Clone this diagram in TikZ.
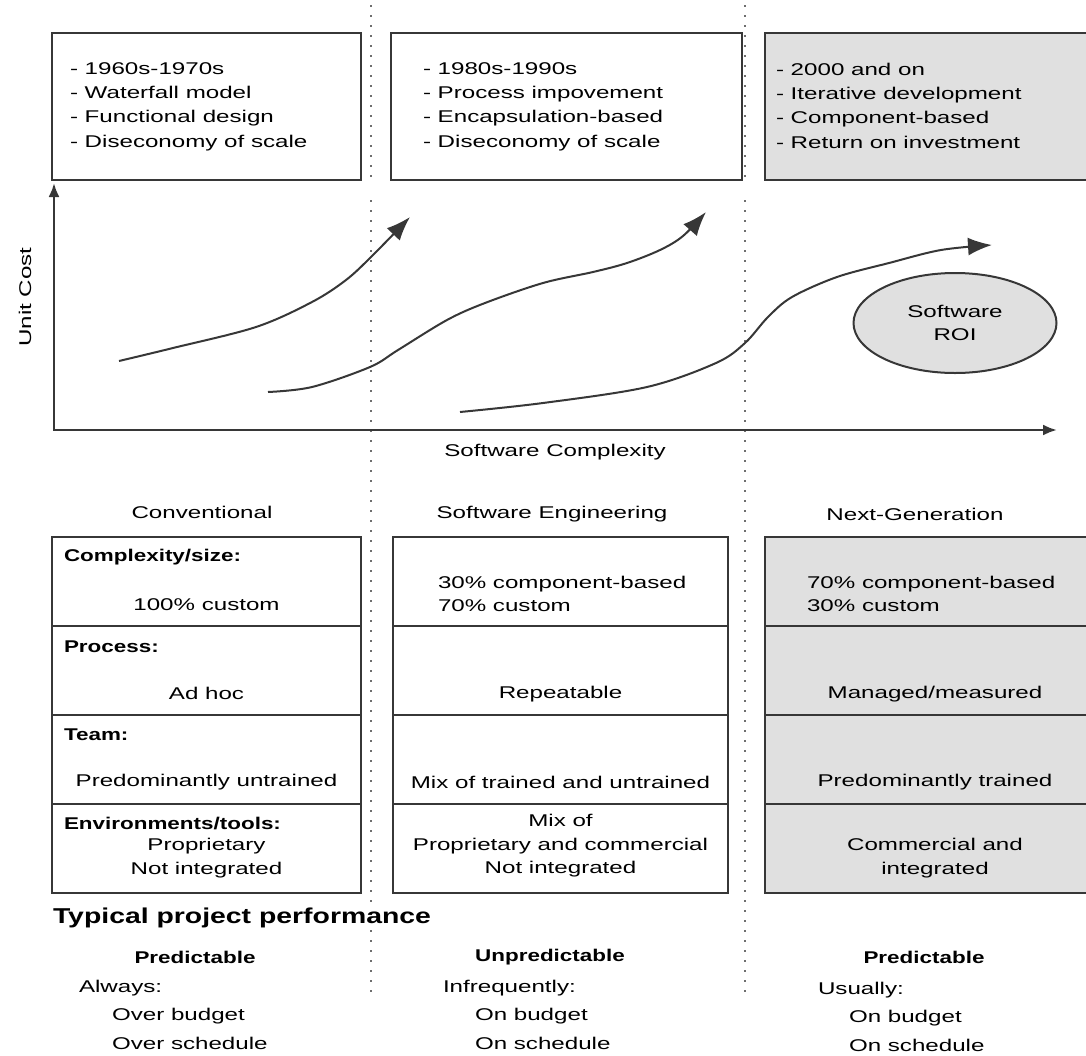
\documentclass[tikz,border=0pt]{standalone}
\usepackage{fontspec}
\usepackage{tikz}
\usetikzlibrary{arrows.meta, positioning, shapes.geometric}
\newfontfamily\txtfont{Liberation Sans}[FakeStretch=1.42]
\newfontfamily\hdfont{Liberation Sans}[FakeStretch=1.32]
\definecolor{boxgray}{RGB}{224, 224, 224}
\definecolor{linegray}{RGB}{55, 55, 55}
\definecolor{dotgray}{RGB}{110, 110, 110}
\newcommand{\txt}{\txtfont\fontsize{17}{23.5}\selectfont}
\newcommand{\hd}{\hdfont\bfseries\fontsize{17}{23.5}\selectfont}

\begin{document}
\begin{tikzpicture}[
        x = 1pt, y = -1pt, % one unit per pixel
        > = {Latex[length=14pt, width=11pt]}, % axis arrow head
        line width = 2pt, % line style
        font = \txt
    ]
        \tikzstyle{era}=[
            draw = linegray,
            anchor = north west,
            minimum height = 147pt,
            inner sep = 0pt,
            outer sep = 0pt,
        ]
        \tikzstyle{cell}=[draw=linegray, anchor=north west, minimum height=89pt, inner sep=0pt, outer sep=0pt]
        \tikzstyle{lbl}=[font=\hd, anchor=west, inner sep=0pt]
        \tikzstyle{lst}=[align=left, anchor=west, inner sep=0pt]
        \tikzstyle{perf}=[anchor=west, inner sep=0pt]
        \tikzstyle{divider}=[dotgray, line width=2pt, dash pattern=on 2pt off 8pt]
        \tikzstyle{trend}=[draw=linegray, -{Latex[length=24pt, width=18pt]}]

        \useasboundingbox (0,0) rectangle (1086,1055);

        % dotted separators
        \draw[divider] (371,5) -- (371,180);
        \draw[divider] (371,200) -- (371,995);
        \draw[divider] (745,5) -- (745,180);
        \draw[divider] (745,200) -- (745,995);

        % eras
        \node[era, minimum width=309pt] (e1) at (52,33) {};
        \node[era, minimum width=351pt] (e2) at (391,33) {};
        \node[era, minimum width=340pt, fill=boxgray] (e3) at (765,33) {};
        \node[lst, font=\txtfont\fontsize{17}{24.3}\selectfont] (t1) at ([xshift=17pt]e1.west) {
        - 1960s-1970s\\
        - Waterfall model\\
        - Functional design\\
        - Diseconomy of scale};
        \node[lst, font=\txtfont\fontsize{17}{24.3}\selectfont] (t2) at ([xshift=31pt]e2.west) {
        - 1980s-1990s\\
        - Process impovement\\
        - Encapsulation-based\\
        - Diseconomy of scale};
        \node[lst, font=\txtfont\fontsize{17}{24.3}\selectfont] (t3) at ([xshift=10pt, yshift=1pt]e3.west) {
        - 2000 and on\\
        - Iterative development\\
        - Component-based\\
        - Return on investment};

        % axes
        \coordinate (ytip) at (54,183);
        \coordinate (xtip) at (1057,430);
        \draw[<->, draw=linegray, line width=2.5pt] (ytip) |- (xtip);
        \node[rotate=90] (uc) at (25,297) {Unit Cost};
        \node (sc) at (555,452) {Software Complexity};

        % cost curves
        \draw[trend] plot[smooth, tension=0.55] coordinates {
        (119,361) (173,348) (256,327) (312,302) (346,280) (372,256) (410,217)};
        \draw[trend] plot[smooth, tension=0.55] coordinates {
        (268,392) (312,387) (370,367) (398,350) (447,320) (485,303) (543,283)
        (593,272) (627,263) (660,250) (683,236) (706,212)};
        \draw[trend] plot[smooth, tension=0.55] coordinates {
        (460,412) (543,403) (647,387) (716,363) (745,343) (768,317) (792,297)
        (837,277) (889,263) (941,250) (992,245)};

        \node[ellipse, draw=linegray, fill=boxgray, minimum width=203pt, minimum height=100pt,
        align=center] (roi) at (955,323) {Software\\ROI};

        % columns
        \node (h1) at (202,512) {Conventional};
        \node (h2) at (552,514) {Software Engineering};
        \node (h3) at (915,514) {Next-Generation};

        \node[cell, minimum width=309pt] (c11) at (52,537) {};
        \node[cell, minimum width=309pt, below=0pt of c11] (c12) {};
        \node[cell, minimum width=309pt, below=0pt of c12] (c13) {};
        \node[cell, minimum width=309pt, below=0pt of c13] (c14) {};

        \node[cell, minimum width=335pt] (c21) at (393,537) {};
        \node[cell, minimum width=335pt, below=0pt of c21] (c22) {};
        \node[cell, minimum width=335pt, below=0pt of c22] (c23) {};
        \node[cell, minimum width=335pt, below=0pt of c23] (c24) {};

        \node[cell, minimum width=340pt, fill=boxgray] (c31) at (765,537) {};
        \node[cell, minimum width=340pt, fill=boxgray, below=0pt of c31] (c32) {};
        \node[cell, minimum width=340pt, fill=boxgray, below=0pt of c32] (c33) {};
        \node[cell, minimum width=340pt, fill=boxgray, below=0pt of c33] (c34) {};

        \node[lbl] (l1) at ([xshift=11pt, yshift=-20pt]c11.north west) {Complexity/size:};
        \node[lbl] (l2) at ([xshift=11pt, yshift=-21pt]c12.north west) {Process:};
        \node[lbl] (l3) at ([xshift=11pt, yshift=-20pt]c13.north west) {Team:};
        \node[lbl] (l4) at ([xshift=11pt, yshift=-19pt]c14.north west) {Environments/tools:};

        \node (v11) at ([yshift=-68pt]c11.north) {100\% custom};
        \node (v12) at ([yshift=-67pt]c12.north) {Ad hoc};
        \node (v13) at ([yshift=-67pt]c13.north) {Predominantly untrained};
        \node[align=center] (v14) at ([yshift=-54pt]c14.north) {Proprietary\\Not integrated};

        \node[lst] (v21) at ([xshift=44pt, yshift=-57pt]c21.north west) {
        30\% component-based\\
        70\% custom};
        \node (v22) at ([yshift=-68pt]c22.north) {Repeatable};
        \node (v23) at ([yshift=-67pt]c23.north) {Mix of trained and untrained};
        \node[align=center] (v24) at ([yshift=-42pt]c24.north) {
        Mix of\\
        Proprietary and commercial\\
        Not integrated};

        \node[lst] (v31) at ([xshift=41pt, yshift=-57pt]c31.north west) {
        70\% component-based\\
        30\% custom};
        \node (v32) at ([yshift=-68pt]c32.north) {Managed/measured};
        \node (v33) at ([yshift=-67pt]c33.north) {Predominantly trained};
        \node[align=center] (v34) at ([yshift=-54pt]c34.north) {Commercial and\\integrated};

        % project performance
        \node[perf, fill=white, inner sep=1pt, font=\hdfont\bfseries\fontsize{21.5}{24}\selectfont]
        (tpp) at (51,918) {Typical project performance};
        \node[font=\hd] (p1) at (195,957) {Predictable};
        \node[font=\hd] (p2) at (550,957) {Unpredictable};
        \node[font=\hd] (p3) at (924,957) {Predictable};

        \node[perf] (a1) at (78,988) {Always:};
        \node[perf] (a2) at (111,1016) {Over budget};
        \node[perf] (a3) at (111,1043) {Over schedule};
        \node[perf] (b1) at (442,988) {Infrequently:};
        \node[perf] (b2) at (474,1016) {On budget};
        \node[perf] (b3) at (474,1043) {On schedule};
        \node[perf] (u1) at (817,990) {Usually:};
        \node[perf] (u2) at (848,1018) {On budget};
        \node[perf] (u3) at (848,1045) {On schedule};
    \end{tikzpicture}
\end{document}
